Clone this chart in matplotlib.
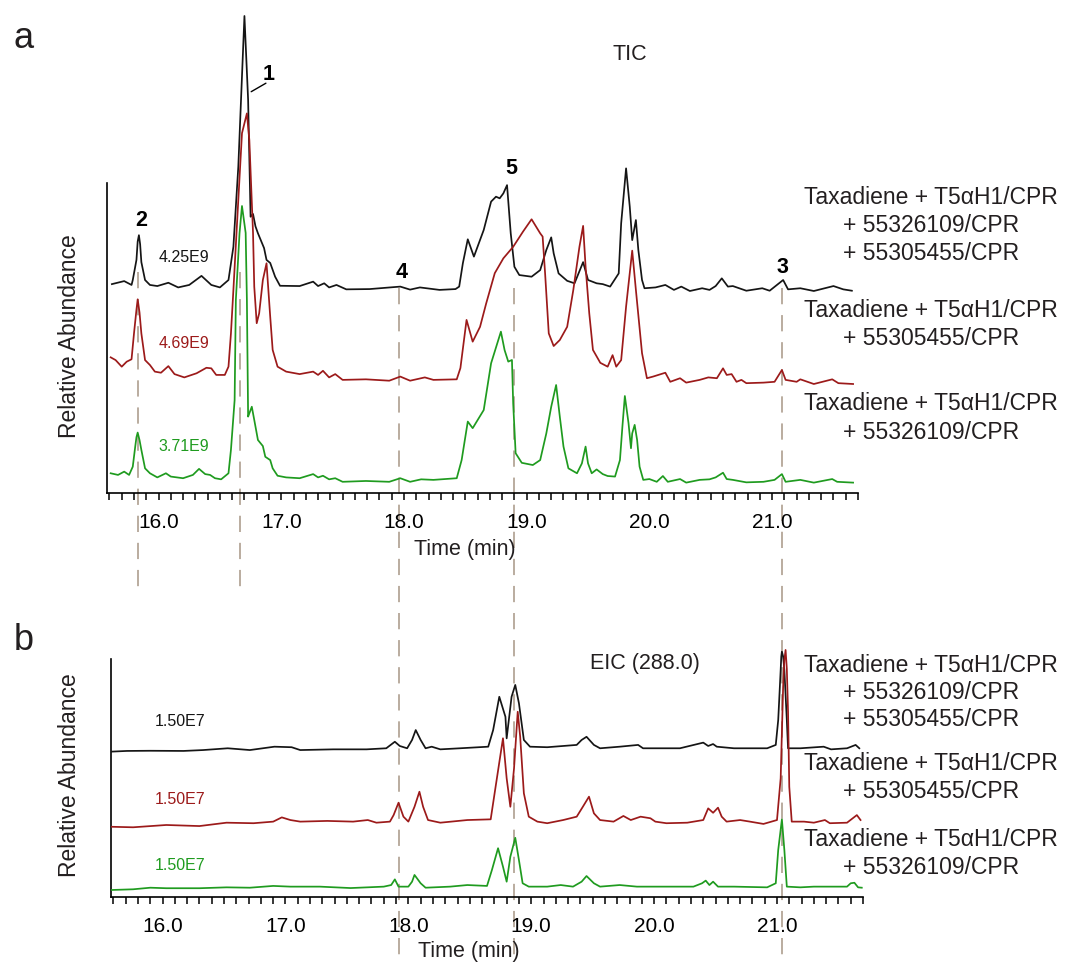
import numpy as np
import matplotlib.pyplot as plt
from matplotlib.ticker import MultipleLocator, FormatStrFormatter
import matplotlib.transforms as mtransforms

plt.rcParams['font.family'] = ['Liberation Sans', 'DejaVu Sans']

# ---------------- panel a: TIC, time (min) / relative abundance (%) ----------------
tic_black_t = [15.62, 15.72, 15.78, 15.79, 15.82, 15.83, 15.84, 15.85, 15.86, 15.89, 15.93, 15.99,
               16.08, 16.16, 16.25, 16.35, 16.43, 16.50, 16.57, 16.61, 16.65, 16.70,
               16.73, 16.75, 16.77, 16.79, 16.81, 16.86, 16.88, 16.91, 16.95, 16.99,
               17.15, 17.26, 17.30, 17.35, 17.39, 17.45, 17.53, 17.72, 17.97, 18.05,
               18.13, 18.29, 18.42, 18.45, 18.48, 18.52, 18.57, 18.65, 18.71, 18.75,
               18.78, 18.81, 18.84, 18.87, 18.90, 18.94, 19.04, 19.11, 19.16, 19.20,
               19.22, 19.26, 19.33, 19.39, 19.46, 19.50, 19.57, 19.62, 19.68, 19.75,
               19.77, 19.81, 19.84, 19.86, 19.89, 19.91, 19.94, 19.96, 20.05, 20.13,
               20.20, 20.26, 20.33, 20.43, 20.49, 20.54, 20.59, 20.64, 20.68, 20.79,
               20.92, 20.98, 21.09, 21.13, 21.23, 21.34, 21.50, 21.58, 21.65]
tic_black_v = [2.5, 3.6, 2.2, 4.0, 11.3, 18.0, 20.3, 17.0, 10.5, 4.0, 2.2, 1.8,
               3.0, 1.3, 2.2, 5.5, 2.2, 1.3, 4.0, 16.1, 45.2, 100.0,
               69.5, 27.0, 28.0, 23.5, 21.0, 15.6, 11.3, 10.2, 5.2, 1.9,
               1.8, 3.4, 1.8, 2.8, 1.3, 2.2, 0.6, 0.7, 1.6, 0.5,
               1.3, 0.4, 0.7, 1.6, 10.1, 18.8, 12.5, 22.2, 32.5, 34.3,
               33.7, 35.5, 38.5, 21.0, 8.8, 5.8, 5.2, 7.6, 14.9, 19.5,
               13.7, 6.4, 3.7, 2.8, 10.5, 4.0, 2.8, 2.5, 1.6, 6.4,
               24.6, 44.6, 30.7, 18.5, 25.8, 14.9, 4.0, 1.0, 1.3, 2.2,
               0.4, 1.6, 0.0, 1.0, 0.4, 1.8, 4.6, 1.6, 1.8, 0.1,
               1.0, 0.1, 4.0, 0.6, 1.0, 0.0, 1.8, 0.6, 0.1]

tic_red_t = [15.61, 15.65, 15.70, 15.74, 15.78, 15.80, 15.82, 15.83, 15.845, 15.86, 15.89, 15.93,
             15.97, 16.02, 16.08, 16.13, 16.21, 16.31, 16.39, 16.43, 16.47, 16.54,
             16.57, 16.59, 16.61, 16.65, 16.68, 16.72, 16.74, 16.77, 16.78, 16.80,
             16.82, 16.85, 16.88, 16.91, 16.93, 16.97, 17.04, 17.15, 17.26, 17.30,
             17.34, 17.39, 17.44, 17.50, 17.69, 17.88, 17.97, 18.05, 18.17, 18.24,
             18.43, 18.46, 18.51, 18.56, 18.62, 18.67, 18.74, 18.81, 18.89, 18.97,
             19.04, 19.11, 19.13, 19.15, 19.18, 19.22, 19.27, 19.33, 19.38, 19.43,
             19.46, 19.48, 19.51, 19.54, 19.60, 19.66, 19.70, 19.73, 19.77, 19.81,
             19.86, 19.89, 19.94, 19.98, 20.03, 20.13, 20.17, 20.25, 20.30, 20.41,
             20.48, 20.55, 20.60, 20.63, 20.67, 20.71, 20.75, 20.79, 20.93, 21.02,
             21.08, 21.11, 21.20, 21.23, 21.34, 21.49, 21.54, 21.66]
tic_red_v = [9.7, 8.7, 6.3, 8.1, 9.0, 18.4, 27.0, 30.8, 26.0, 18.4, 8.7, 6.9,
             4.5, 4.1, 6.5, 3.6, 2.4, 3.9, 5.9, 5.7, 3.3, 3.3,
             6.3, 18.4, 34.2, 66.9, 91.2, 98.4, 88.7, 54.9, 35.4, 22.1,
             25.7, 37.8, 43.9, 24.5, 12.4, 6.3, 4.5, 3.6, 4.5, 3.3,
             4.8, 2.4, 3.6, 1.5, 1.7, 1.2, 2.7, 1.2, 2.4, 1.5,
             1.7, 5.8, 23.3, 15.4, 20.8, 29.3, 40.3, 45.7, 49.9, 55.4,
             59.9, 54.8, 53.6, 40.3, 18.4, 13.8, 16.0, 20.8, 34.2, 49.9,
             57.5, 42.7, 25.7, 12.4, 7.7, 6.3, 10.5, 6.3, 8.7, 28.1,
             48.5, 34.2, 11.2, 2.1, 2.7, 4.1, 0.8, 2.1, 0.5, 1.5,
             2.4, 2.1, 5.7, 3.3, 3.6, 0.8, 1.5, 0.3, 0.5, 0.8,
             5.1, 1.5, 0.8, 1.7, 0.0, 1.7, 0.3, 0.0]

tic_green_t = [15.61, 15.67, 15.72, 15.76, 15.79, 15.81, 15.82, 15.83, 15.845, 15.86, 15.89, 15.93,
               15.99, 16.06, 16.10, 16.20, 16.28, 16.33, 16.38, 16.42, 16.46, 16.51,
               16.57, 16.59, 16.62, 16.63, 16.66, 16.68, 16.71, 16.72, 16.73, 16.74,
               16.76, 16.78, 16.81, 16.85, 16.87, 16.91, 16.93, 16.97, 17.04, 17.15,
               17.26, 17.30, 17.34, 17.39, 17.44, 17.50, 17.69, 17.88, 17.97, 18.05,
               18.14, 18.24, 18.43, 18.47, 18.52, 18.56, 18.65, 18.71, 18.79, 18.82,
               18.85, 18.88, 18.89, 18.91, 18.96, 19.05, 19.11, 19.16, 19.20, 19.24,
               19.27, 19.30, 19.34, 19.41, 19.45, 19.48, 19.50, 19.53, 19.57, 19.62,
               19.66, 19.72, 19.76, 19.78, 19.80, 19.83, 19.85, 19.86, 19.88, 19.90,
               19.92, 19.95, 20.00, 20.06, 20.11, 20.15, 20.25, 20.30, 20.41, 20.49,
               20.54, 20.60, 20.63, 20.68, 20.79, 20.93, 21.02, 21.08, 21.11, 21.23,
               21.34, 21.49, 21.53, 21.66]
tic_green_v = [3.9, 3.3, 4.5, 3.3, 6.3, 13.6, 17.0, 18.7, 16.0, 12.4, 5.7, 3.9,
               2.4, 3.9, 2.7, 2.1, 3.3, 5.5, 3.6, 3.3, 2.1, 1.7,
               3.9, 12.4, 30.5, 66.9, 91.2, 101.1, 91.3, 66.9, 24.5, 25.7,
               28.1, 23.3, 16.0, 13.8, 9.9, 8.7, 5.7, 3.0, 2.4, 2.1,
               3.6, 2.4, 3.0, 1.7, 2.1, 0.8, 1.1, 0.8, 2.1, 0.8,
               1.7, 1.5, 2.1, 8.7, 22.7, 20.3, 26.9, 43.9, 55.4, 48.7,
               44.5, 45.1, 29.3, 11.2, 7.7, 6.9, 8.7, 18.4, 28.1, 36.0,
               24.5, 13.6, 5.7, 3.9, 7.5, 13.6, 7.5, 3.9, 5.3, 3.6,
               2.9, 2.7, 8.7, 20.8, 32.0, 22.1, 13.0, 18.4, 21.5, 16.0,
               6.3, 1.5, 1.8, 0.8, 2.9, 0.8, 1.8, 0.5, 1.5, 1.7,
               2.4, 4.1, 1.8, 1.5, 0.6, 0.8, 1.5, 3.6, 0.8, 1.5,
               0.5, 1.8, 0.8, 0.5]

# ---------------- panel b: EIC m/z 288.0, % of 1.50E7 ----------------
eic_black_t = [15.58, 15.71, 15.90, 16.17, 16.33, 16.53, 16.71, 16.91, 17.05, 17.12,
               17.39, 17.66, 17.82, 17.89, 17.93, 17.99, 18.03, 18.06, 18.10, 18.14,
               18.19, 18.26, 18.42, 18.65, 18.69, 18.74, 18.79, 18.80, 18.84, 18.87,
               18.90, 18.94, 18.99, 19.13, 19.37, 19.41, 19.45, 19.51, 19.56, 19.72,
               19.87, 19.91, 20.21, 20.40, 20.44, 20.48, 20.51, 20.65, 20.92, 20.99,
               21.01, 21.03, 21.035, 21.04, 21.05, 21.06, 21.08, 21.09, 21.19, 21.38, 21.44, 21.57,
               21.64, 21.67]
eic_black_v = [0.2, 0.6, 0.7, 0.6, 1.1, 2.1, 1.1, 3.0, 2.7, 1.1,
               1.5, 1.5, 2.1, 5.8, 3.4, 2.1, 6.8, 12.4, 6.8, 2.1,
               3.0, 1.5, 2.1, 3.0, 12.4, 31.2, 19.9, 7.7, 31.2, 37.9,
               27.5, 6.8, 3.0, 2.7, 4.0, 6.8, 8.6, 4.0, 2.1, 3.0,
               4.0, 2.1, 2.1, 5.3, 3.4, 4.5, 3.0, 2.1, 2.1, 4.0,
               18.1, 46.3, 54.0, 56.7, 54.0, 46.3, 18.1, 2.1, 2.1, 3.0, 1.5, 2.1,
               4.0, 2.1]

eic_red_t = [15.58, 15.76, 16.03, 16.30, 16.52, 16.74, 16.90, 16.97, 17.04, 17.12,
             17.34, 17.55, 17.67, 17.74, 17.85, 17.88, 17.92, 17.96, 18.00, 18.05,
             18.09, 18.12, 18.16, 18.26, 18.48, 18.67, 18.71, 18.77, 18.80, 18.83,
             18.86, 18.89, 18.91, 18.94, 18.98, 19.05, 19.13, 19.26, 19.37, 19.42,
             19.47, 19.51, 19.56, 19.67, 19.75, 19.81, 19.89, 19.97, 20.01, 20.10,
             20.27, 20.40, 20.44, 20.48, 20.52, 20.55, 20.59, 20.70, 20.78, 20.89,
             21.00, 21.03, 21.05, 21.06, 21.07, 21.08, 21.09, 21.10, 21.12, 21.22, 21.30, 21.39,
             21.43, 21.57, 21.65, 21.68]
eic_red_v = [0.7, 0.4, 1.7, 1.1, 3.0, 2.7, 3.6, 6.0, 4.5, 3.6,
             4.0, 3.6, 4.5, 3.0, 3.6, 7.3, 14.3, 6.4, 3.6, 12.0,
             20.5, 12.0, 4.5, 3.0, 4.5, 4.9, 23.3, 50.7, 28.1, 12.0,
             33.7, 65.7, 51.6, 19.6, 6.4, 3.6, 2.7, 4.5, 6.4, 12.0,
             17.7, 8.3, 4.5, 3.6, 6.8, 4.5, 6.4, 5.5, 3.6, 2.7,
             3.0, 4.5, 11.1, 8.6, 11.5, 6.4, 3.6, 4.5, 3.6, 2.3,
             4.5, 28.1, 79.8, 95.0, 100.6, 90.0, 65.7, 23.3, 3.6, 3.6, 3.0, 4.5,
             2.7, 3.0, 7.3, 4.5]

eic_green_t = [15.58, 15.76, 15.90, 16.03, 16.30, 16.52, 16.71, 16.90, 17.04, 17.28,
               17.53, 17.80, 17.86, 17.89, 17.92, 18.00, 18.03, 18.05, 18.10, 18.14,
               18.34, 18.48, 18.64, 18.68, 18.73, 18.77, 18.80, 18.83, 18.87, 18.90,
               18.93, 18.98, 19.13, 19.24, 19.34, 19.41, 19.45, 19.51, 19.56, 19.72,
               19.86, 20.10, 20.32, 20.39, 20.42, 20.45, 20.48, 20.52, 20.65, 20.92,
               20.99, 21.01, 21.04, 21.06, 21.08, 21.19, 21.30, 21.57, 21.60, 21.63,
               21.66, 21.69]
eic_green_v = [0.0, 0.4, 1.3, 1.0, 1.0, 1.5, 1.3, 2.3, 1.9, 1.9,
               1.1, 1.9, 2.8, 6.0, 1.9, 1.9, 4.7, 8.5, 3.8, 1.3,
               1.9, 2.8, 2.3, 11.3, 23.6, 13.2, 4.7, 18.8, 29.5, 16.9,
               3.8, 1.9, 1.9, 2.8, 1.9, 4.7, 7.9, 3.8, 1.9, 2.8,
               1.9, 1.9, 1.9, 3.8, 5.3, 2.8, 4.7, 1.9, 1.9, 1.5,
               3.8, 22.6, 39.9, 22.6, 1.9, 1.5, 1.9, 1.9, 3.8, 4.1,
               1.5, 1.3]

nl_tic = ['4.25E9', '4.69E9', '3.71E9']
nl_eic = ['1.50E7', '1.50E7', '1.50E7']
samples = [['Taxadiene + T5αH1/CPR', '+ 55326109/CPR', '+ 55305455/CPR'],
           ['Taxadiene + T5αH1/CPR', '+ 55305455/CPR'],
           ['Taxadiene + T5αH1/CPR', '+ 55326109/CPR']]
peak_names = ['2', '1', '4', '5', '3']
peak_t = [15.83, 16.66, 17.96, 18.90, 21.08]

colors = ['#151515', '#9c1a1a', '#1f9b1f']
dash_color = '#b4a697'
text_color = '#231f20'

W, H = 1069, 969
fig = plt.figure(figsize=(W / 100, H / 100), dpi=100)


def px_box(x0, y0, x1, y1):
    return [x0 / W, 1 - y1 / H, (x1 - x0) / W, (y1 - y0) / H]


def ftext(x, y, s, **kw):
    fig.text(x / W, 1 - y / H, s, ha='center', va='center', **kw)


ax_a = fig.add_axes(px_box(107, 10, 858, 492.7))
ax_b = fig.add_axes(px_box(111, 630, 863, 896.7))

# stacking of the three traces (vertical offsets and scale, in axis units)
panels = [
    (ax_a, [(tic_black_t, tic_black_v), (tic_red_t, tic_red_v), (tic_green_t, tic_green_v)],
     [201.7, 108.7, 8.7], 2.75, 482.7, 309.7),
    (ax_b, [(eic_black_t, eic_black_v), (eic_red_t, eic_red_v), (eic_green_t, eic_green_v)],
     [144.7, 68.7, 6.7], 1.77, 266.7, 237.4),
]

for ax, traces, offs, k, ytop, spine_top in panels:
    for (t, v), off, c in zip(traces, offs, colors):
        ax.plot(t, off + k * np.array(v), color=c, lw=1.25, zorder=3,
                solid_joinstyle='round')
    ax.set_xlim(15.58, 21.70)
    ax.set_ylim(0, ytop)
    ax.patch.set_alpha(0)
    for s in ['top', 'right']:
        ax.spines[s].set_visible(False)
    ax.spines['left'].set_bounds(0, spine_top)
    ax.spines['left'].set_linewidth(1.2)
    ax.spines['bottom'].set_linewidth(1.2)
    ax.set_yticks([])
    ax.xaxis.set_major_locator(MultipleLocator(1.0))
    ax.xaxis.set_minor_locator(MultipleLocator(0.1))
    ax.xaxis.set_major_formatter(FormatStrFormatter('%.1f'))
    ax.tick_params(axis='x', which='both', direction='out', length=5, width=1.1)
    ax.tick_params(axis='x', which='major', labelsize=15, pad=9.5)

# dashed guide lines through the marked peaks
blend = mtransforms.blended_transform_factory(ax_a.transData, fig.transFigure)
tops = [272, 272, 288, 288, 288]
bots = [590, 590, 965, 965, 965]
for t, y0, y1 in zip(peak_t, tops, bots):
    ax_a.plot([t, t], [1 - y0 / H, 1 - y1 / H], transform=blend, clip_on=False,
              color=dash_color, lw=1.3, ls=(0, (9, 6)), zorder=1)

# peak numbers
peak_xy = [(141.7, 220), (268.3, 74), (401.7, 273), (511, 169), (782.7, 267.5)]
for name, (x, y) in zip(peak_names, peak_xy):
    ftext(x, y, name, fontsize=15.5, fontweight='bold', color='black')
ax_a.annotate('', xy=(16.755, 401), xytext=(16.875, 409.5),
              arrowprops=dict(arrowstyle='-', lw=1.0, color='black',
                              shrinkA=0, shrinkB=0))

# NL values
for s, y, c in zip(nl_tic, [258, 344, 446], colors):
    ftext(184, y, s, fontsize=11.5, color=c)
for s, y, c in zip(nl_eic, [721, 800, 865], colors):
    ftext(180, y, s, fontsize=11.5, color=c)

# sample labels
for lines, y0 in zip(samples, [197, 310, 404]):
    for i, s in enumerate(lines):
        ftext(931, y0 + 28.5 * i, s, fontsize=16.5, color=text_color)
for lines, y0 in zip(samples, [665, 764, 840]):
    for i, s in enumerate(lines):
        ftext(931, y0 + 27.5 * i, s, fontsize=16.5, color=text_color)

ftext(630, 55, 'TIC', fontsize=15.5, color=text_color)
ftext(645, 664, 'EIC (288.0)', fontsize=15.5, color=text_color)
ftext(465, 550, 'Time (min)', fontsize=15.5, color=text_color)
ftext(469, 952, 'Time (min)', fontsize=15.5, color=text_color)
ftext(70, 336, 'Relative Abundance', fontsize=16.5, rotation=90, color=text_color)
ftext(70, 775, 'Relative Abundance', fontsize=16.5, rotation=90, color=text_color)
ftext(24, 38, 'a', fontsize=26, color=text_color)
ftext(24, 640, 'b', fontsize=26, color=text_color)

fig.savefig('out.png', dpi=100)
